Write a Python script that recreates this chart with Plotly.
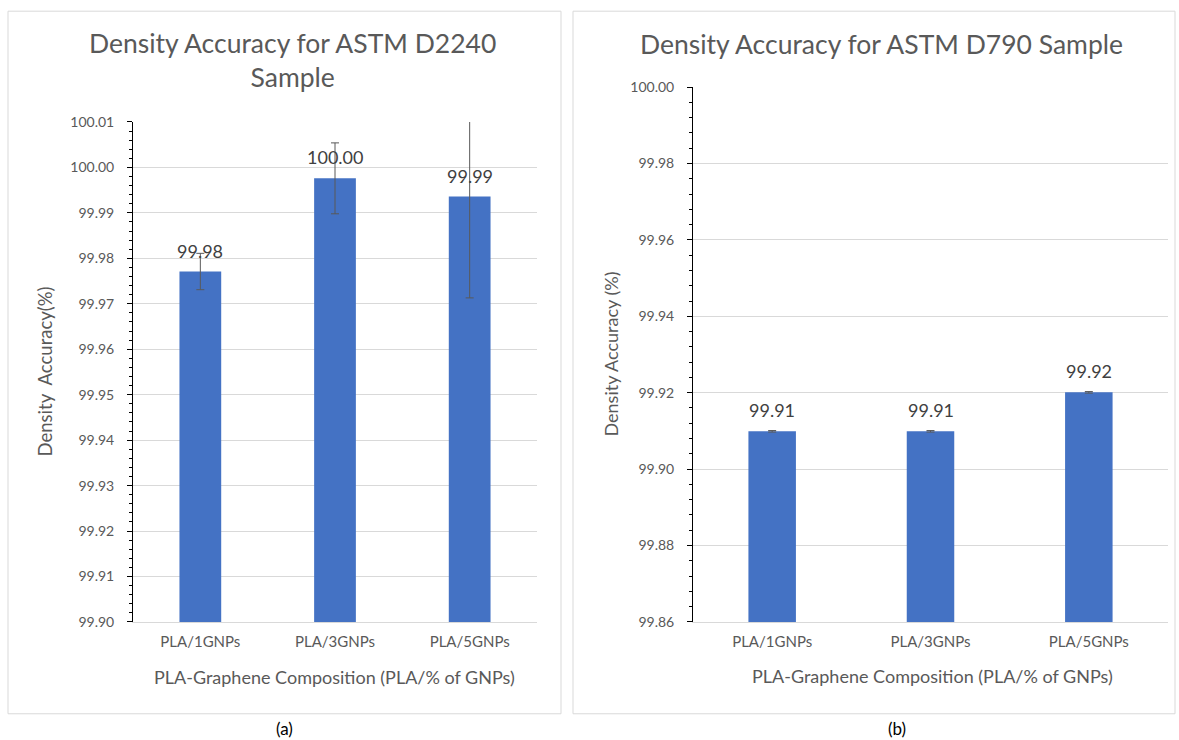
import plotly.graph_objects as go

# Composition categories shared by both panels
categories = ["PLA/1GNPs", "PLA/3GNPs", "PLA/5GNPs"]

# ASTM D2240 sample: mean density accuracy (%) and error
d2240_values = [99.9771, 99.9976, 99.9936]
d2240_errors = [0.0040, 0.0078, 0.0223]

# ASTM D790 sample: mean density accuracy (%) and error
d790_values = [99.9099, 99.9099, 99.9201]
d790_errors = [0.0002, 0.0002, 0.0002]

# Axis tick values
d2240_ticks = [99.90, 99.91, 99.92, 99.93, 99.94, 99.95, 99.96, 99.97, 99.98, 99.99, 100.00, 100.01]
d790_ticks = [99.86, 99.88, 99.90, 99.92, 99.94, 99.96, 99.98, 100.00]

W, H = 1179, 740
FONT = "Lato"
BAR_COLOR = "#4472C4"
GRID = "#D9D9D9"
TXT = "#595959"
LABEL = "#404040"


def px(x):
    return x / W


def py(y):
    # vertical pixel position (from the top) to paper fraction
    return 1 - ((y - 7.8) / 0.979) / H


fig = go.Figure()

err_style = dict(type="data", visible=True, color="#595959", thickness=1, width=4)

fig.add_trace(go.Bar(
    x=categories, y=d2240_values, xaxis="x", yaxis="y",
    marker=dict(color=BAR_COLOR, line=dict(width=0)),
    error_y=dict(array=d2240_errors, **err_style),
    width=0.31, showlegend=False,
))
fig.add_trace(go.Bar(
    x=categories, y=d790_values, xaxis="x2", yaxis="y2",
    marker=dict(color=BAR_COLOR, line=dict(width=0)),
    error_y=dict(array=d790_errors, **err_style),
    width=0.30, showlegend=False,
))

# Value labels above each bar
for xa, ya, vals in [("x", "y", d2240_values), ("x2", "y2", d790_values)]:
    for c, v in zip(categories, vals):
        fig.add_annotation(x=c, y=v, xref=xa, yref=ya, text=f"{v:.2f}",
                           showarrow=False, yanchor="bottom", yshift=8,
                           font=dict(family=FONT, size=18, color=LABEL))

xtickfont = dict(family=FONT, size=15, color=TXT)
ytickfont = dict(family=FONT, size=14, color=TXT)

xaxis_common = dict(
    showline=True, linecolor=GRID, linewidth=1, ticks="", showgrid=False,
    tickfont=xtickfont, ticklabelstandoff=6, fixedrange=True,
)
yaxis_common = dict(
    showline=True, linecolor="#000000", linewidth=1, ticks="outside",
    ticklen=5, tickcolor="#000000", tickwidth=1,
    showgrid=True, gridcolor=GRID, gridwidth=1, zeroline=False,
    tickfont=ytickfont, tickformat=".2f", ticklabelstandoff=10, fixedrange=True,
)

fig.update_layout(
    width=W, height=H,
    margin=dict(l=0, r=0, t=0, b=0),
    paper_bgcolor="white", plot_bgcolor="white",
    xaxis=dict(domain=[px(133), px(537)], anchor="y", **xaxis_common),
    yaxis=dict(domain=[py(622), py(121)], anchor="x", range=[99.90, 100.01],
               tickvals=d2240_ticks,
               minor=dict(dtick=0.002, tick0=99.90, ticks="outside", ticklen=3,
                          tickcolor="#000000", showgrid=False),
               **yaxis_common),
    xaxis2=dict(domain=[px(693), px(1168)], anchor="y2", **xaxis_common),
    yaxis2=dict(domain=[py(622), py(86)], anchor="x2", range=[99.86, 100.00],
                tickvals=d790_ticks,
                minor=dict(dtick=0.004, tick0=99.86, ticks="outside", ticklen=3,
                           tickcolor="#000000", showgrid=False),
                **yaxis_common),
)

# Panel borders
for x0, x1 in [(8, 561), (573, 1175)]:
    fig.add_shape(type="rect", xref="paper", yref="paper",
                  x0=px(x0), x1=px(x1), y0=py(714), y1=py(10),
                  line=dict(color=GRID, width=1), fillcolor="rgba(0,0,0,0)", layer="below")

ann = []
# Titles
ann.append(dict(text="Density Accuracy for ASTM D2240<br>Sample", x=px(292), y=py(59),
                font=dict(family=FONT, size=26.5, color=TXT)))
ann.append(dict(text="Density Accuracy for ASTM D790 Sample", x=px(881), y=py(43),
                font=dict(family=FONT, size=26.5, color=TXT)))
# Axis titles
ann.append(dict(text="PLA-Graphene Composition (PLA/% of GNPs)", x=px(334), y=py(677),
                font=dict(family=FONT, size=18, color=TXT)))
ann.append(dict(text="PLA-Graphene Composition (PLA/% of GNPs)", x=px(932), y=py(676),
                font=dict(family=FONT, size=18, color=TXT)))
ann.append(dict(text="Density\u00a0\u00a0Accuracy(%)", x=px(45), y=py(371), textangle=-90,
                font=dict(family=FONT, size=18.5, color=TXT)))
ann.append(dict(text="Density Accuracy (%)", x=px(611), y=py(354), textangle=-90,
                font=dict(family=FONT, size=18, color=TXT)))
# Panel labels
ann.append(dict(text="(a)", x=px(284), y=py(729),
                font=dict(family=FONT, size=17, color="#000000")))
ann.append(dict(text="(b)", x=px(897), y=py(729),
                font=dict(family=FONT, size=17, color="#000000")))

for a in ann:
    fig.add_annotation(xref="paper", yref="paper", showarrow=False,
                       xanchor="center", yanchor="middle", **a)

fig.write_html("out.html")
